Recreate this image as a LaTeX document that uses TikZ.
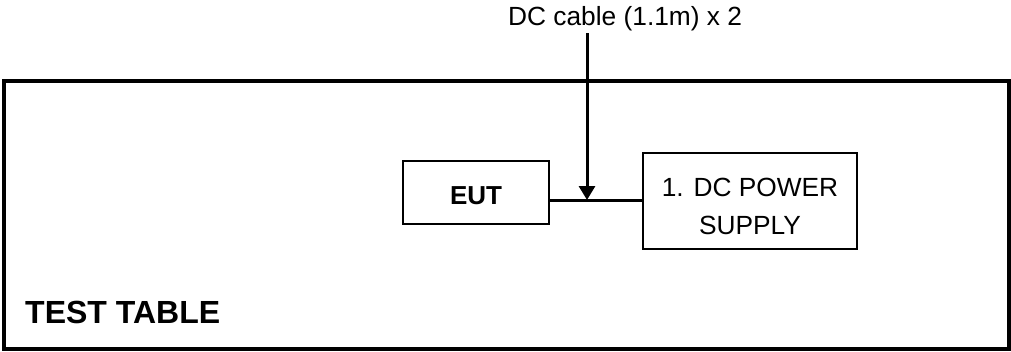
\documentclass[tikz,border=0pt]{standalone}
\usepackage{fontspec}
\setmainfont{Liberation Sans}
\usetikzlibrary{arrows.meta}
\tikzset{
  boxstyle/.style={draw, line width=2pt, inner sep=0pt, anchor=center},
  lbl/.style={font=\fontsize{26.3}{38}\selectfont, inner sep=0pt},
  wire/.style={line width=3pt},
}
\begin{document}
\begin{tikzpicture}[x=1pt,y=-1pt]
\useasboundingbox (0,0) rectangle (1011,351);
\node[draw, line width=3.5pt, minimum width=1005pt, minimum height=268pt, inner sep=0pt] (table) at (506.5,215) {};
\node[lbl, font=\fontsize{32}{38}\selectfont\bfseries, anchor=base west] (tt) at (25,323) {TEST TABLE};
\node[boxstyle, minimum width=146pt, minimum height=63pt] (eut) at (476,192.5) {};
\node[lbl, font=\fontsize{26}{38}\selectfont\bfseries, anchor=base] (euttext) at (476,204) {EUT};
\node[boxstyle, minimum width=214pt, minimum height=96pt] (psu) at (750,201) {};
\node[lbl, align=center, anchor=base] (psutext) at (750,234) {1. DC POWER\\SUPPLY};
\node[lbl, anchor=base west] (cable) at (508,25) {DC cable (1.1m) x 2};
\coordinate (top) at (587,33);
\coordinate (j) at (587,200);
\draw[wire] (eut.east |- j) -- (psu.west |- j);
\draw[wire, -{Triangle[width=16pt,length=14pt]}] (top) -- (j);
\end{tikzpicture}
\end{document}
